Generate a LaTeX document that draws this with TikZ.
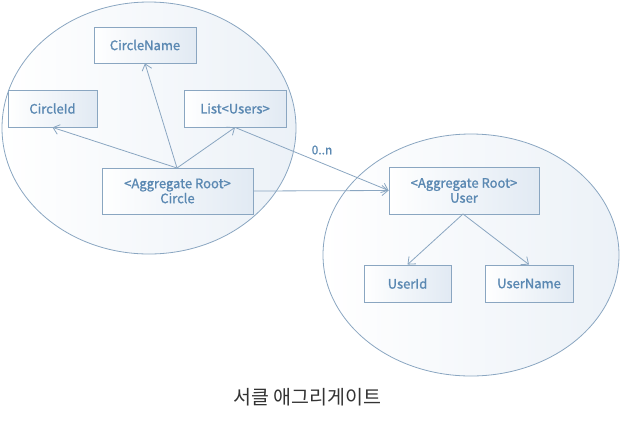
\documentclass[tikz,border=0pt]{standalone}
\usepackage{fontspec}
\setmainfont{Noto Sans CJK KR}[AutoFakeBold=1.2]
\usetikzlibrary{shapes.geometric,arrows.meta}
\definecolor{ln}{HTML}{8AA6C1}
\definecolor{tx}{HTML}{5A88B2}
\definecolor{fillb}{HTML}{DCE6F1}
\definecolor{cap}{HTML}{333333}
\tikzset{
  x=1pt, y=-1pt,
  el/.style={ellipse, draw=ln, line width=0.8pt, shading=axis, shading angle=135, left color=white, right color=fillb!55},
  bx/.style={draw=ln, line width=0.8pt, shading=axis, shading angle=135, left color=white, right color=fillb!85, text=tx, font=\fontsize{13}{15}\selectfont\bfseries, align=center, inner sep=0pt},
  ar/.style={draw=ln, line width=0.8pt, -{Straight Barb[length=6pt,width=10pt]}}
}
\begin{document}
\begin{tikzpicture}
\useasboundingbox (0,0) rectangle (620,424);
% ellipses
\node[el, minimum width=294pt, minimum height=252pt, inner sep=0pt] (E1) at (149,128) {};
\node[el, minimum width=296pt, minimum height=242pt, inner sep=0pt] (E2) at (471,255) {};
% boxes
\node[bx, minimum width=102pt, minimum height=36pt] (cname) at (145,45) {CircleName};
\node[bx, minimum width=89pt, minimum height=37pt] (cid) at (52.5,108.5) {CircleId};
\node[bx, minimum width=102pt, minimum height=37pt] (lusers) at (235,108.5) {List<Users>};
\node[bx, minimum width=151pt, minimum height=46pt] (circle) at (177.5,191) {<Aggregate Root>\\Circle};
\node[bx, minimum width=150pt, minimum height=47pt] (user) at (464,190.5) {<Aggregate Root>\\User};
\node[bx, minimum width=87pt, minimum height=37pt] (uid) at (407.5,283.5) {UserId};
\node[bx, minimum width=88pt, minimum height=37pt] (uname) at (529,283.5) {UserName};
% connectors
\coordinate (ctop) at (177,168);
\draw[ar] (ctop) -- (cname.south);
\draw[ar] (ctop) -- (cid.south);
\draw[ar] (ctop) -- (lusers.south);
\draw[ar] (lusers.south) -- (user.west);
\draw[ar] (circle.east) -- (user.west);
\node[text=tx, font=\fontsize{12}{13}\selectfont\bfseries, inner sep=0pt] (lbl) at (322,150) {0..n};
\coordinate (ubot) at (463,214);
\draw[ar] (ubot) -- (uid.north);
\draw[ar] (ubot) -- (uname.north);
% caption
\node[text=cap, font=\fontsize{19.5}{22}\selectfont, inner sep=0pt] (caption) at (307,397) {서클 애그리게이트};
\end{tikzpicture}
\end{document}
